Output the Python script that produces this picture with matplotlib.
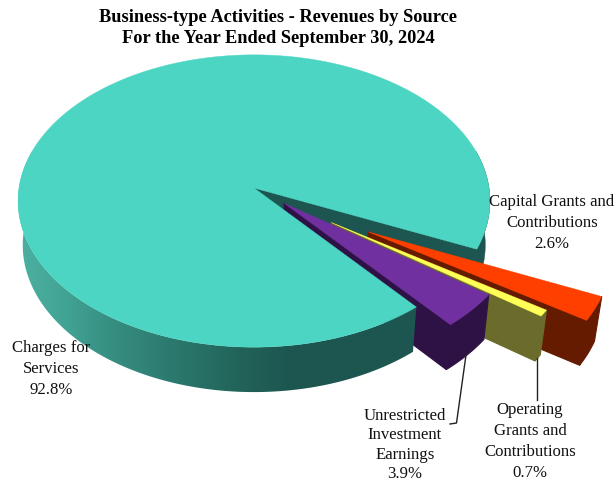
import numpy as np
import matplotlib.pyplot as plt
from matplotlib.colors import to_rgb
from matplotlib.patches import Polygon

plt.rcParams['font.family'] = ['Liberation Serif', 'DejaVu Serif']

# data
categories = ["Capital Grants and\nContributions", "Operating\nGrants and\nContributions",
              "Unrestricted\nInvestment\nEarnings", "Charges for\nServices"]
values = [2.6, 0.7, 3.9, 92.8]
title = "Business-type Activities - Revenues by Source\nFor the Year Ended September 30, 2024"

# look of the pie
top_colors = ['#FF3F00', '#FFFF55', '#7030A0', '#4DD5C3']
side_colors = ['#641B00', '#6B6B2B', '#2E1245', '#1D5650']
shift_dist = [0.558, 0.398, 0.165, 0.0]
shift_angle = [31.9, 35.9, 39.5, 0.0]
start_angle = 24.0

cx, cy = 254, 188
rx, ry = 235, 145
persp = 0.089
depth = 45
shrink = 0.02


def project(u, v, z=0.0):
    # flat disc in unit coords to picture pixels, z=1 is the bottom face
    s = 1 / (1 - persp * v + shrink * z)
    return cx + rx * u * s, cy + (ry * v + depth * z) * s


def arc(theta, off, z=0.0):
    t = np.radians(theta)
    x, y = project(np.cos(t) + off[0], np.sin(t) + off[1], z)
    return np.column_stack([x, y])


def point(off, z=0.0):
    return np.array([project(off[0], off[1], z)])


def draw_wall(ax, theta, off, color, zorder):
    # straight cut face from the apex out to the rim
    a = arc(np.array([theta]), off)
    b = arc(np.array([theta]), off, 1)
    poly = np.vstack([point(off), a, b, point(off, 1)])
    ax.fill(poly[:, 0], poly[:, 1], color=color, lw=0.8, zorder=zorder)


def rim_poly(t0, t1, off):
    th = np.linspace(t0, t1, 120)
    return np.vstack([arc(th, off), arc(th[::-1], off, 1)])


def draw_top(ax, t0, t1, off, color, zorder):
    th = np.linspace(t0, t1, 200)
    poly = np.vstack([point(off), arc(th, off)])
    ax.fill(poly[:, 0], poly[:, 1], color=color, lw=0.3, zorder=zorder)


fig = plt.figure(figsize=(6.16, 4.82), dpi=100)
ax = fig.add_axes([0, 0, 1, 1])

edges = start_angle + np.cumsum([0] + values) * 3.6

# wedge cut faces sit under the main slice, their tops and rims above it
for i in range(3):
    t0, t1 = edges[i], edges[i + 1]
    a = np.radians(shift_angle[i])
    off = (shift_dist[i] * np.cos(a), shift_dist[i] * np.sin(a))
    z = 5 + i * 2
    draw_wall(ax, t1, off, side_colors[i], 1 + i * 0.1)
    rim = rim_poly(t0, t1, off)
    ax.fill(rim[:, 0], rim[:, 1], color=side_colors[i], lw=0.8, zorder=z)
    draw_top(ax, t0, t1, off, top_colors[i], z + 1)

# main slice: cut face, shaded rim, then the top
t0, t1 = edges[3], edges[4]
draw_wall(ax, t1, (0, 0), side_colors[3], 0.5)
rim = rim_poly(345, t1, (0, 0))
ax.fill(rim[:, 0], rim[:, 1], color=side_colors[3], lw=0.3, zorder=0.5)

stops_x = [18, 60, 110, 170, 240, 290, 616]
stop_cols = np.array([to_rgb(c) for c in ['#4CB0A0', '#43A596', '#378F82', '#2C7A6F', '#226359', '#1D5650', '#1D5650']])
xs = np.arange(616) + 0.5
shade = np.column_stack([np.interp(xs, stops_x, stop_cols[:, c]) for c in range(3)])[np.newaxis, :, :]
img = ax.imshow(shade, extent=(0, 616, 482, 0), aspect='auto', zorder=2, interpolation='bilinear')
rim_shape = Polygon(rim_poly(t0, 195, (0, 0)), closed=True, transform=ax.transData)
img.set_clip_path(rim_shape)
draw_top(ax, t0, t1, (0, 0), top_colors[3], 3)

ax.set_xlim(0, 616)
ax.set_ylim(482, 0)
ax.axis('off')

# leader lines
ax.plot([466, 456.5, 450], [355, 423, 424], color='#222222', lw=1.0, zorder=20)
ax.plot([536.7, 536.7], [358, 400], color='#222222', lw=1.0, zorder=20)

ax.text(278, 28, title, ha='center', va='center', fontsize=13.2, fontweight='bold',
        color='black', linespacing=1.31, zorder=30)

label_pos = [(552, 223), (530, 441.5), (405, 445), (51, 369)]
label_spacing = [1.38, 1.42, 1.3, 1.38]
for name, val, (lx, ly), sp in zip(categories, values, label_pos, label_spacing):
    ax.text(lx, ly, f"{name}\n{val:.1f}%", ha='center', va='center', fontsize=12.1,
            color='#111111', linespacing=sp, zorder=30)

fig.savefig('out.png', dpi=100)
